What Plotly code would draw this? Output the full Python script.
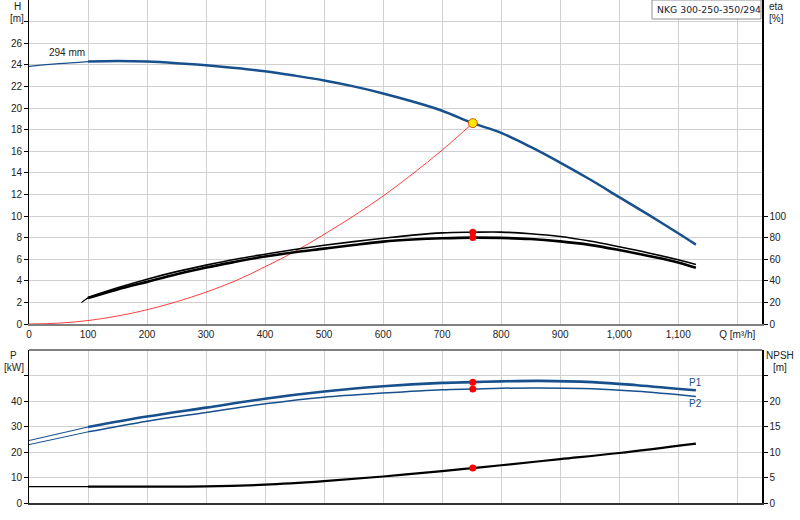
import plotly.graph_objects as go

# ---------------- data ----------------
Q_H = [0, 50, 100, 150, 200, 250, 300, 350, 400, 450, 500, 550, 600, 650, 700,
       752, 800, 850, 900, 950, 1000, 1050, 1100, 1130]
H = [23.85, 24.1, 24.3, 24.35, 24.3, 24.15, 23.95, 23.7, 23.4, 23.0, 22.55, 22.0,
     21.35, 20.6, 19.75, 18.6, 17.7, 16.4, 14.95, 13.4, 11.75, 10.1, 8.4, 7.35]

Q_SYS = [0, 50, 100, 150, 200, 250, 300, 350, 400, 450, 500, 550, 600, 650, 700, 752]
H_SYS = [0, 0.08, 0.32, 0.74, 1.32, 2.06, 2.95, 4.0, 5.3, 6.7, 8.3, 10.0, 11.85,
         13.9, 16.1, 18.6]

Q_ETA = [89, 100, 150, 200, 250, 300, 350, 400, 450, 500, 550, 600, 650, 700, 752,
         800, 850, 900, 950, 1000, 1050, 1100, 1130]
ETA_P = [20, 24.6, 33.5, 41.5, 48.5, 54.5, 60.0, 64.6, 69.0, 72.9, 76.3, 79.4, 82.3,
         84.4, 85.0, 85.1, 83.6, 81.0, 76.8, 71.5, 65.8, 59.5, 55.0]
ETA_T = [20, 24.0, 32.0, 39.0, 46.0, 52.3, 57.6, 62.5, 66.5, 69.8, 73.2, 76.3, 78.2,
         79.4, 80.0, 79.7, 78.7, 76.5, 73.3, 68.5, 63.0, 57.0, 52.0]

Q_P = [0, 100, 200, 300, 400, 500, 600, 700, 752, 800, 865, 955, 1030, 1130]
P1 = [24.5, 29.8, 33.9, 37.4, 40.9, 43.7, 45.8, 47.1, 47.4, 47.7, 47.9, 47.4, 46.2, 44.2]
P2 = [22.9, 27.9, 32.1, 35.5, 38.9, 41.5, 43.1, 44.4, 44.7, 45.0, 45.1, 44.8, 43.8, 41.8]

Q_N = [0, 100, 200, 300, 400, 500, 600, 700, 752, 800, 900, 1000, 1130]
NPSH = [3.2, 3.2, 3.2, 3.25, 3.6, 4.3, 5.2, 6.25, 6.85, 7.4, 8.6, 9.8, 11.65]

Q_DUTY = 752
H_DUTY = 18.6
ETA_DUTY = [85.0, 80.0]
P_DUTY = [47.4, 44.7]
NPSH_DUTY = 6.85

Q_TICKS = list(range(0, 1300, 100))
Q_TICKTEXT = [f"{v:,}" for v in Q_TICKS[:-1]] + ["Q [m³/h]"]
H_TICKS = list(range(0, 30, 2))
ETA_TICKS = list(range(0, 120, 20))
P_TICKS = list(range(0, 60, 10))
NPSH_TICKS = list(range(0, 30, 5))

Q_MIN_FLOW = 100

BLUE = "#17508d"
GRID = "#d0d0d0"
TXT = "#222222"

fig = go.Figure()


def add_curve(qs, vs, xa, ya, color, width, thin_width=1.0, split=Q_MIN_FLOW):
    thin_q = [q for q in qs if q <= split]
    thin_v = [v for q, v in zip(qs, vs) if q <= split]
    thick_q = [q for q in qs if q >= split]
    thick_v = [v for q, v in zip(qs, vs) if q >= split]
    if len(thin_q) > 1:
        fig.add_trace(go.Scatter(x=thin_q, y=thin_v, xaxis=xa, yaxis=ya, mode="lines",
                                 line=dict(color=color, width=thin_width, shape="spline"),
                                 hoverinfo="skip"))
    fig.add_trace(go.Scatter(x=thick_q, y=thick_v, xaxis=xa, yaxis=ya, mode="lines",
                             line=dict(color=color, width=width, shape="spline"),
                             hoverinfo="skip"))


# top chart
fig.add_trace(go.Scatter(x=Q_SYS, y=H_SYS, xaxis="x", yaxis="y", mode="lines",
                         line=dict(color="rgba(255,0,0,0.75)", width=1, shape="spline"),
                         hoverinfo="skip"))
add_curve(Q_H, H, "x", "y", BLUE, 2.5, 1.3)
add_curve(Q_ETA, ETA_P, "x", "y2", "#000000", 1.6, 1.0)
add_curve(Q_ETA, ETA_T, "x", "y2", "#000000", 2.6, 1.0)
fig.add_trace(go.Scatter(x=[Q_DUTY, Q_DUTY], y=ETA_DUTY, xaxis="x", yaxis="y2",
                         mode="markers", marker=dict(color="#ff0000", size=7),
                         hoverinfo="skip"))
fig.add_trace(go.Scatter(x=[Q_DUTY], y=[H_DUTY], xaxis="x", yaxis="y", mode="markers",
                         marker=dict(color="#ffe800", size=9,
                                     line=dict(color="#e05000", width=1)),
                         hoverinfo="skip"))

# bottom chart
add_curve(Q_P, P1, "x2", "y3", BLUE, 2.6, 1.2)
add_curve(Q_P, P2, "x2", "y3", BLUE, 1.5, 1.0)
add_curve(Q_N, NPSH, "x2", "y4", "#000000", 2.2, 1.2)
fig.add_trace(go.Scatter(x=[Q_DUTY, Q_DUTY], y=P_DUTY, xaxis="x2", yaxis="y3",
                         mode="markers", marker=dict(color="#ff0000", size=7),
                         hoverinfo="skip"))
fig.add_trace(go.Scatter(x=[Q_DUTY], y=[NPSH_DUTY], xaxis="x2", yaxis="y4",
                         mode="markers", marker=dict(color="#ff0000", size=7),
                         hoverinfo="skip"))

W, HGT = 800, 520
ML, MR, MT, MB = 29, 38, 0, 17
PW = W - ML - MR
PH = HGT - MT - MB


def px(x):
    return (x - ML) / PW


def py(y):
    return (HGT - MB - y) / PH


top_dom = [py(324), 1.0]
bot_dom = [0.0, py(350)]

axis_font = dict(family="Liberation Sans, Arial, sans-serif", size=10, color=TXT)

common = dict(automargin=False, zeroline=False)

fig.update_layout(
    width=W, height=HGT,
    margin=dict(l=ML, r=MR, t=MT, b=MB, autoexpand=False),
    paper_bgcolor="white", plot_bgcolor="white",
    showlegend=False,
    hovermode=False,
    font=axis_font,
    xaxis=dict(domain=[0, 1], anchor="y", range=[0, 1242], tickvals=Q_TICKS,
               ticktext=Q_TICKTEXT, showgrid=True, gridcolor=GRID, gridwidth=1,
               showline=True, linecolor="#808080", linewidth=2,
               ticks="", tickfont=axis_font, **common),
    yaxis=dict(domain=top_dom, anchor="x", range=[0, 30], tickvals=H_TICKS,
               ticktext=[str(v) if v < 28 else "" for v in H_TICKS],
               showgrid=True, gridcolor=GRID, showline=True,
               linecolor="#000000", linewidth=1, ticks="outside", ticklen=4,
               tickcolor="#000000", tickfont=axis_font, **common),
    yaxis2=dict(overlaying="y", side="right", anchor="x", range=[0, 300],
                tickvals=ETA_TICKS, showgrid=False, showline=True,
                linecolor="#000000", linewidth=1.5, ticks="outside", ticklen=4,
                tickcolor="#000000", tickfont=axis_font, **common),
    xaxis2=dict(domain=[0, 1], anchor="y3", range=[0, 1242], tickvals=Q_TICKS,
                showticklabels=False, showgrid=True, gridcolor=GRID,
                showline=True, linecolor="#333333", linewidth=1.5, ticks="", **common),
    yaxis3=dict(domain=bot_dom, anchor="x2", range=[0, 60], tickvals=P_TICKS,
                ticktext=[str(v) if v < 50 else "" for v in P_TICKS],
                showgrid=True, gridcolor=GRID, showline=True,
                linecolor="#000000", linewidth=1, ticks="outside", ticklen=4,
                tickcolor="#000000", tickfont=axis_font, **common),
    yaxis4=dict(overlaying="y3", side="right", anchor="x2", range=[0, 30],
                tickvals=NPSH_TICKS,
                ticktext=[str(v) if v < 25 else "" for v in NPSH_TICKS],
                showgrid=False, showline=True, linecolor="#000000",
                linewidth=1.5, ticks="outside", ticklen=4, tickcolor="#000000",
                tickfont=axis_font, **common),
)

# top border of lower chart
fig.add_shape(type="line", xref="x2 domain", yref="y3 domain", x0=0, x1=1, y0=1, y1=1,
              line=dict(color="#808080", width=2))

# title box
fig.add_shape(type="rect", xref="paper", yref="paper", x0=px(652), x1=px(761),
              y0=py(19), y1=py(0), line=dict(color="#909090", width=1),
              fillcolor="white", layer="above")

ann = []


def label(x, y, text, anchor="center", font=None):
    ann.append(dict(xref="paper", yref="paper", x=px(x), y=py(y), text=text,
                    showarrow=False, xanchor=anchor, yanchor="middle",
                    font=font or axis_font))


label(17, 6, "H")
label(17, 18, "[m]")
label(767, 6, "eta", "left")
label(767, 18, "[%]", "left")
label(14, 355, "P")
label(14, 367, "[kW]")
label(780, 355, "NPSH")
label(780, 367, "[m]")
label(655, 9, "NKG 300-250-350/294", "left",
      dict(family="DejaVu Sans, Verdana, sans-serif", size=9.3, color="#1a1a33"))

ann.append(dict(xref="x", yref="y", x=30, y=25.1, text="294 mm", showarrow=False,
                xanchor="left", yanchor="middle", font=axis_font))
ann.append(dict(xref="x2", yref="y3", x=Q_P[-1], y=47.3, text="P1", showarrow=False,
                xanchor="center", yanchor="middle",
                font=dict(family="Liberation Sans, Arial", size=10, color=BLUE)))
ann.append(dict(xref="x2", yref="y3", x=Q_P[-1], y=39.2, text="P2", showarrow=False,
                xanchor="center", yanchor="middle",
                font=dict(family="Liberation Sans, Arial", size=10, color=BLUE)))

fig.update_layout(annotations=ann)

# the page's default 8px body margin would shift the figure; remove it
fig.write_html("out.html",
               config={"displayModeBar": False, "staticPlot": True},
               post_script="document.body.style.margin='0';"
                           "document.body.style.overflow='hidden';")
